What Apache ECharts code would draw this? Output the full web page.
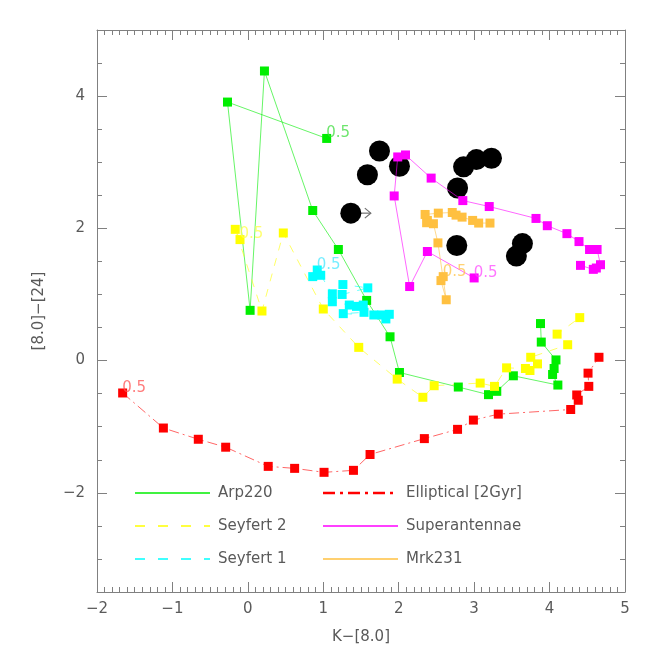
<!DOCTYPE html>
<html>
<head>
<meta charset="utf-8">
<script src="https://cdn.jsdelivr.net/npm/echarts@6/dist/echarts.min.js"></script>
<style>
html, body { margin: 0; padding: 0; background: #fff; }
#chart { width: 654px; height: 654px; }
</style>
</head>
<body>
<div id="chart"></div>
<script>
// redshift tracks, first point is z = 0.5
const arp220 = [[1.045,3.36],[-0.27,3.91],[0.03,0.76],[0.22,4.38],[0.86,2.27],[1.2,1.68],[1.575,0.91],[1.885,0.36],[2.01,-0.18],[2.79,-0.40],[3.19,-0.515],[3.30,-0.465],[3.52,-0.23],[4.11,-0.37],[4.04,-0.21],[4.06,-0.12],[4.085,0.01],[3.89,0.28],[3.88,0.56]];
const seyfert2 = [[-0.104,1.83],[-0.167,1.985],[0.187,0.75],[0.47,1.93],[1.0,0.78],[1.47,0.20],[1.98,-0.28],[2.32,-0.555],[2.47,-0.38],[3.08,-0.34],[3.27,-0.39],[3.43,-0.11],[3.68,-0.12],[3.74,-0.15],[3.84,-0.05],[3.75,0.05],[4.24,0.24],[4.10,0.40],[4.40,0.65]];
const seyfert1 = [[0.92,1.37],[0.86,1.27],[0.966,1.29],[1.12,1.01],[1.26,1.15],[1.59,1.10],[1.25,1.0],[1.12,0.89],[1.345,0.84],[1.44,0.82],[1.53,0.84],[1.54,0.73],[1.265,0.71],[1.67,0.69],[1.775,0.69],[1.83,0.63],[1.875,0.70]];
const superantennae = [[3.0,1.25],[2.38,1.65],[2.145,1.12],[1.94,2.49],[1.987,3.08],[2.09,3.11],[2.43,2.76],[2.85,2.42],[3.20,2.33],[3.82,2.15],[3.97,2.04],[4.23,1.92],[4.39,1.80],[4.53,1.68],[4.63,1.68],[4.675,1.45],[4.62,1.40],[4.58,1.38],[4.41,1.44]];
const mrk231 = [[2.59,1.27],[2.56,1.21],[2.63,0.92],[2.52,1.78],[2.46,2.07],[2.37,2.085],[2.38,2.12],[2.35,2.21],[2.525,2.23],[2.71,2.24],[2.76,2.20],[2.84,2.17],[2.98,2.12],[3.06,2.08],[3.21,2.08]];
const elliptical = [[-1.66,-0.49],[-1.12,-1.02],[-0.657,-1.19],[-0.294,-1.31],[0.27,-1.60],[0.62,-1.63],[1.01,-1.69],[1.40,-1.66],[1.62,-1.42],[2.34,-1.18],[2.78,-1.04],[2.99,-0.90],[3.32,-0.81],[4.28,-0.74],[4.38,-0.60],[4.36,-0.52],[4.52,-0.39],[4.51,-0.19],[4.655,0.05]];
// observed sources
const sources = [[1.745,3.17],[1.585,2.81],[2.01,2.94],[1.365,2.23],[2.86,2.93],[3.03,3.04],[3.23,3.06],[2.78,2.61],[2.77,1.74],[3.64,1.77],[3.56,1.58]];
// lower limit arrows: [x, y, xTip]
const limits = [[1.365,2.23,1.63]];
const trackLabel = '0.5';
const yLabelValues = [-2, 0, 2, 4];

const axisGray = '#808080';
const textGray = '#5a5a5a';
const fontFam = 'DejaVu Sans, sans-serif';

function fmt(v) {
    return v < 0 ? '\u2212' + Math.abs(v) : String(v);
}

function track(name, data, color, labelColor, dash) {
    return {
        name: name,
        type: 'line',
        symbol: 'rect',
        symbolSize: 9,
        itemStyle: { color: color },
        lineStyle: { color: color, width: 1, type: dash, opacity: 0.6 },
        z: 3,
        data: data.map((p, i) => i === 0 ? {
            value: p,
            label: {
                show: true,
                formatter: trackLabel,
                position: 'right',
                distance: 0,
                offset: [-5, -5],
                color: labelColor,
                fontSize: 15,
                fontFamily: fontFam
            }
        } : p)
    };
}

const chart = echarts.init(document.getElementById('chart'));

const xBase = {
    type: 'value', min: -2, max: 5, interval: 1,
    axisLine: { show: true, onZero: false, lineStyle: { color: axisGray } },
    axisTick: { show: true, inside: true, length: 10, lineStyle: { color: axisGray } },
    minorTick: { show: true, splitNumber: 10, length: 5, lineStyle: { color: axisGray } },
    splitLine: { show: false }
};
const yBase = {
    type: 'value', min: -3.5, max: 5, interval: 0.5,
    axisLine: { show: true, onZero: false, lineStyle: { color: axisGray } },
    axisTick: { show: true, inside: true, length: 5, lineStyle: { color: axisGray } },
    splitLine: { show: false },
    axisLabel: { show: false }
};
// longer ticks at the labelled values
const yMajor = Object.assign({}, yBase, {
    axisLine: { show: false, onZero: false },
    axisTick: { show: true, inside: true, length: 10, customValues: yLabelValues, lineStyle: { color: axisGray } }
});

const legendRows = [
    { x: 135, y: 493, color: '#00ee00', dash: null, text: 'Arp220' },
    { x: 135, y: 526, color: '#ffff00', dash: [10, 13], text: 'Seyfert 2' },
    { x: 135, y: 559, color: '#00ffff', dash: [10, 13], text: 'Seyfert 1' },
    { x: 323, y: 493, color: '#ff0000', dash: [12, 5, 3, 5], text: 'Elliptical [2Gyr]' },
    { x: 323, y: 526, color: '#ff00ff', dash: null, text: 'Superantennae' },
    { x: 323, y: 559, color: '#ffc040', dash: null, text: 'Mrk231' }
];
const legendGraphic = [];
legendRows.forEach(r => {
    legendGraphic.push({
        type: 'line',
        shape: { x1: r.x, y1: r.y, x2: r.x + 75, y2: r.y },
        style: { stroke: r.color, lineWidth: r.text === 'Elliptical [2Gyr]' ? 2.5 : 1.5, lineDash: r.dash }
    });
    legendGraphic.push({
        type: 'text',
        x: r.x + 83, y: r.y,
        style: { text: r.text, fill: textGray, fontSize: 15, fontFamily: fontFam, verticalAlign: 'middle' }
    });
});

const option = {
    animation: false,
    backgroundColor: '#fff',
    grid: { left: 97, right: 29, top: 30, bottom: 62, containLabel: false },
    xAxis: [
        Object.assign({}, xBase, {
            position: 'bottom',
            name: 'K\u2212[8.0]',
            nameLocation: 'middle',
            nameGap: 38,
            nameTextStyle: { color: textGray, fontSize: 15, fontFamily: fontFam },
            axisLabel: { color: textGray, fontSize: 15, fontFamily: fontFam, margin: 10, formatter: fmt }
        }),
        Object.assign({}, xBase, { position: 'top', axisLabel: { show: false } })
    ],
    yAxis: [
        Object.assign({}, yBase, {
            position: 'left',
            name: '[8.0]\u2212[24]',
            nameLocation: 'middle',
            nameGap: 50,
            nameTextStyle: { color: textGray, fontSize: 15, fontFamily: fontFam },
            axisLabel: {
                show: true, color: textGray, fontSize: 15, fontFamily: fontFam, margin: 12,
                formatter: v => (Math.abs(v % 2) < 1e-9 ? fmt(v) : '')
            }
        }),
        Object.assign({}, yMajor, { position: 'left' }),
        Object.assign({}, yBase, { position: 'right' }),
        Object.assign({}, yMajor, { position: 'right' })
    ],
    graphic: legendGraphic,
    series: [
        {
            name: 'sources',
            type: 'scatter',
            symbol: 'circle',
            symbolSize: 21,
            itemStyle: { color: '#000', opacity: 1 },
            z: 2,
            data: sources
        },
        {
            name: 'limits',
            type: 'custom',
            z: 2,
            renderItem: function (params, api) {
                const p0 = api.coord([api.value(0), api.value(1)]);
                const p1 = api.coord([api.value(2), api.value(1)]);
                const style = { stroke: '#707070', lineWidth: 1.2, fill: null };
                return {
                    type: 'group',
                    children: [
                        { type: 'line', shape: { x1: p0[0], y1: p0[1], x2: p1[0], y2: p1[1] }, style: style },
                        { type: 'polyline', shape: { points: [[p1[0] - 6, p1[1] - 5], [p1[0], p1[1]], [p1[0] - 6, p1[1] + 5]] }, style: style }
                    ]
                };
            },
            data: limits
        },
        track('Arp220', arp220, '#00ee00', 'rgba(60,220,60,0.75)', 'solid'),
        track('Seyfert 2', seyfert2, '#ffff00', 'rgba(255,255,80,0.8)', [8, 8]),
        track('Seyfert 1', seyfert1, '#00ffff', 'rgba(60,230,255,0.7)', [8, 8]),
        track('Superantennae', superantennae, '#ff00ff', 'rgba(255,60,255,0.7)', 'solid'),
        track('Mrk231', mrk231, '#ffc040', 'rgba(255,195,70,0.75)', 'solid'),
        track('Elliptical [2Gyr]', elliptical, '#ff0000', 'rgba(255,80,80,0.75)', [10, 4, 2, 4])
    ]
};

chart.setOption(option);
window.addEventListener('resize', () => chart.resize());
</script>
</body>
</html>
